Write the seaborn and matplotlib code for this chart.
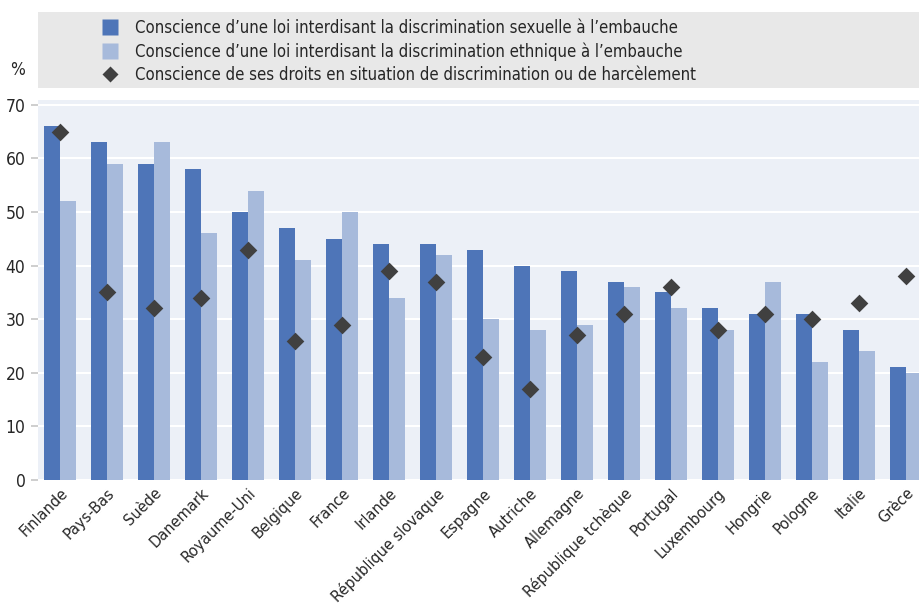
import matplotlib
matplotlib.use("Agg")
import matplotlib.pyplot as plt
import seaborn as sns
import pandas as pd
from matplotlib.patches import Rectangle
from matplotlib.lines import Line2D

countries = ["Finlande", "Pays-Bas", "Suède", "Danemark", "Royaume-Uni", "Belgique",
             "France", "Irlande", "République slovaque", "Espagne", "Autriche",
             "Allemagne", "République tchèque", "Portugal", "Luxembourg", "Hongrie",
             "Pologne", "Italie", "Grèce"]
sexual = [66, 63, 59, 58, 50, 47, 45, 44, 44, 43, 40, 39, 37, 35, 32, 31, 31, 28, 21]
ethnic = [52, 59, 63, 46, 54, 41, 50, 34, 42, 30, 28, 29, 36, 32, 28, 37, 22, 24, 20]
rights = [65, 35, 32, 34, 43, 26, 29, 39, 37, 23, 17, 27, 31, 36, 28, 31, 30, 33, 38]

labels = ["Conscience d\u2019une loi interdisant la discrimination sexuelle à l\u2019embauche",
          "Conscience d\u2019une loi interdisant la discrimination ethnique à l\u2019embauche",
          "Conscience de ses droits en situation de discrimination ou de harcèlement"]
yticks = [0, 10, 20, 30, 40, 50, 60, 70]

c_dark = "#4E75B8"
c_light = "#A7BADB"
c_diam = "#404040"

sns.set_theme(style="white")
plt.rcParams["font.family"] = ["DejaVu Sans"]
plt.rcParams["font.stretch"] = "condensed"

df = pd.DataFrame({
    "pays": countries * 2,
    "valeur": sexual + ethnic,
    "serie": [labels[0]] * len(countries) + [labels[1]] * len(countries),
})

W, H = 919, 605
fig = plt.figure(figsize=(W / 100, H / 100), dpi=100)
ax = fig.add_axes([38 / W, 1 - 480 / H, 1 - 38 / W, 380 / H])
ax.set_facecolor("#ECF0F7")

sns.barplot(data=df, x="pays", y="valeur", hue="serie", order=countries,
            hue_order=labels[:2], palette=[c_dark, c_light], width=0.68,
            gap=0, saturation=1, ax=ax, legend=False, zorder=2, linewidth=0)
sns.stripplot(x=countries, y=rights, order=countries, jitter=False, marker="D",
              color=c_diam, size=9, ax=ax, zorder=4, linewidth=0)

ax.set_xlim(-0.47, 18.28)
ax.set_ylim(0, 70.9)
ax.set_yticks(yticks)
ax.set_yticklabels([str(v) for v in yticks], fontsize=12.5)
ax.yaxis.grid(True, color="white", linewidth=1.5, zorder=0)
ax.set_axisbelow(True)
for s in ax.spines.values():
    s.set_visible(False)
ax.tick_params(axis="y", length=5, color="#C8C8C8", pad=4, left=True)
ax.tick_params(axis="x", length=0, pad=4)
ax.set_xticks(range(len(countries)))
ax.set_xticklabels(countries, rotation=45, ha="right", rotation_mode="anchor", fontsize=11.7)
ax.set_xlabel("")
ax.set_ylabel("")

# legend box
fig.patches.append(Rectangle((38 / W, 1 - 88 / H), 1 - 38 / W, 76 / H,
                             transform=fig.transFigure, facecolor="#E8E8E8",
                             edgecolor="none", zorder=0))
handles = [
    Line2D([], [], marker="s", color="none", markerfacecolor=c_dark, markeredgecolor="none", markersize=11),
    Line2D([], [], marker="s", color="none", markerfacecolor=c_light, markeredgecolor="none", markersize=11),
    Line2D([], [], marker="D", color="none", markerfacecolor=c_diam, markeredgecolor="none", markersize=8),
]
fig.legend(handles, labels, loc="upper left", bbox_to_anchor=(86 / W, 1 - 5 / H),
           frameon=False, fontsize=12, handlelength=1.2, handletextpad=0.9,
           labelspacing=0.3, borderpad=0.35)
fig.text(18 / W, 1 - 70 / H, "%", fontsize=12.5, ha="center", va="center")

fig.savefig("out.png", dpi=100)
